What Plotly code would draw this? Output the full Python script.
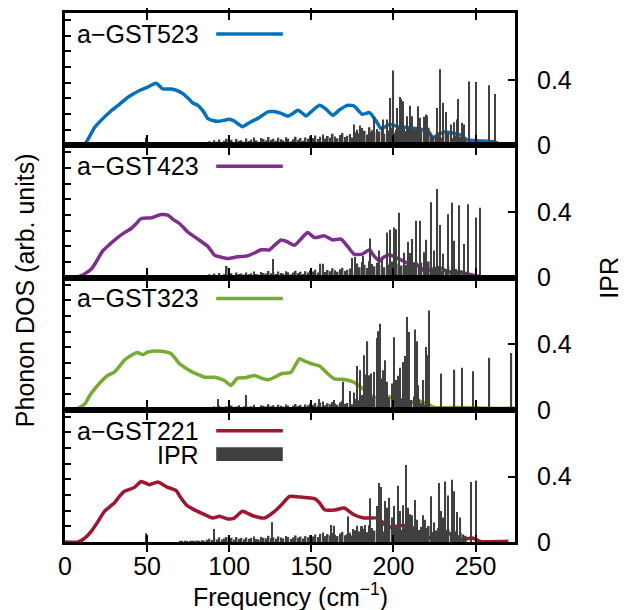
import numpy as np
import plotly.graph_objects as go

# ---------------- data ----------------
SAMPLES = ["a\u2212GST523", "a\u2212GST423", "a\u2212GST323", "a\u2212GST221"]
COLORS = ["#0072bd", "#7e2f8e", "#77ac30", "#a2142f"]
IPR_COLOR = "#404040"

# Phonon DOS (arb. units): (frequency cm^-1, DOS)
DOS_523 = [(0,0),(10,0),(12,0.05),(18,1.13),(23,1.7),(28,2.19),(33,2.6),(38,3.04),(42,3.3),(46,3.53),
           (50,3.7),(55.5,3.96),(59.5,3.6),(64.6,3.6),(68,3.5),(71.7,3.3),(75,3.0),(77.8,2.7),(80.9,2.55),
           (84,2.2),(87,1.7),(90,1.58),(93,1.53),(97,1.6),(100,1.66),(103,1.55),(108,1.19),(113,1.49),
           (118,1.75),(123.5,2.13),(127,2.15),(131.6,2.04),(135.7,1.87),(139,2.05),(141.8,2.23),(144,2.1),
           (146.8,1.87),(151,2.25),(155,2.55),(159,2.3),(163,1.91),(167,2.25),(172,2.55),(176,2.51),
           (181,1.98),(185.4,2.09),(189.5,1.55),(192.5,1.06),(197.6,1.34),(202.6,1.19),(208.7,1.13),
           (214.8,1.06),(221,0.91),(224,0.49),(227,0.65),(231,0.85),(238,0.74),(241,0.64),(245,0.34),
           (253,0.28),(261.5,0.21),(265.6,0)]
DOS_423 = [(0,0),(6,0),(10,0.12),(15.9,0.53),(19,1.0),(23,1.7),(27,2.1),(32,2.55),(36,2.85),(40.3,3.13),
           (43,3.4),(46.4,3.77),(52.4,3.81),(58.5,4.02),(62.6,3.98),(66,3.7),(69.7,3.45),(74.8,2.91),
           (80.9,2.45),(87,1.98),(91,1.43),(95,1.3),(99,1.21),(105,1.32),(111,1.38),(115,1.55),(119.4,1.77),
           (124.5,1.77),(128,2.1),(131.6,2.40),(135,2.3),(139.7,2.06),(144,2.5),(147.8,2.87),(151.9,2.55),
           (158,2.66),(163,2.40),(168,2.45),(172,2.0),(176,1.49),(181,1.49),(185.4,1.77),(188,1.4),
           (191.5,1.06),(194,1.3),(197.6,1.45),(203.7,1.17),(208.7,0.91),(213.8,0.85),(218.9,0.43),
           (223,0.5),(228,0.64),(233,0.36),(241,0.36),(246,0.21),(254.4,0.04),(258,0)]
DOS_323 = [(0,0),(6,0),(12,0.36),(15,0.9),(19,1.44),(22,1.8),(26,2.19),(30,2.40),(33,2.75),(36,3.15),
           (40,3.45),(44,3.65),(47.4,3.52),(50.4,3.69),(56.5,3.76),(60,3.72),(64.6,3.58),(67,3.3),
           (69.7,2.94),(73,2.7),(76.8,2.45),(81,2.25),(85,2.08),(91,2.08),(97,1.87),(101,1.55),(105,2.02),
           (110,2.05),(115.4,2.19),(120,2.0),(123.5,1.91),(128,2.1),(131.6,2.30),(137.7,2.40),(140,2.8),
           (142.8,3.26),(146,3.1),(150,2.94),(155,2.79),(160,2.30),(164,1.97),(170,1.93),(176,1.76),
           (180,1.44),(184.4,1.07),(188.5,0.79),(196.6,0.84),(202.6,0.69),(208.7,0.47),(216.9,0.52),
           (221,0.36),(225,0.15),(241,0.15),(257.5,0.09),(274,0.09)]
DOS_221 = [(0,0),(8,0),(12,0.25),(16,0.68),(20,1.3),(24,1.96),(30,2.49),(33,2.9),(36,3.23),(42.3,3.49),
           (46.4,3.87),(51.4,3.66),(56.5,3.83),(62.6,3.49),(67.7,3.28),(70,2.9),(73.8,2.38),(78,2.1),
           (83,1.85),(90,1.53),(94,1.64),(99,1.47),(103,1.53),(108,1.96),(114.4,1.68),(121.4,1.53),
           (127.6,1.96),(132,2.4),(136.7,2.91),(143.8,2.87),(152,2.77),(155,2.5),(158,2.06),(164,2.04),
           (170,2.17),(176,1.74),(182,1.53),(190.5,1.53),(193,1.3),(196.6,0.94),(204.7,1.06),(210.8,1.00),
           (214.8,0.47),(221,0.30),(225,0.26),(230,0.79),(235,0.47),(241,0.15),(248,0.26),(253,0.04),
           (270,0.04)]

# IPR "grass": sampled every 1.5 cm^-1 from 70 cm^-1, values in units of 1e-3
GRASS_START, GRASS_STEP = 70.0, 1.5
GRASS_523 = [3,5,2,6,4,8,5,10,7,12,9,
             18,25,14,30,22,35,19,28,40,24,33,20,38,27,31,22,
             42,26,35,48,30,22,44,38,29,51,33,40,27,46,36,30,49,41,25,37,52,34,44,28,47,39,55,
             45,60,38,52,66,41,57,48,70,54,43,62,75,50,58,68,47,
             80,95,72,105,88,65,110,92,78,100,85,115,70,98,90,108,76,94,112,83,99,87,104,74,96,110,82,101,88,93,107,
             70,55,62,80,48,66,58,75,52,45,60,38,50,42,35]
GRASS_423 = [2,4,3,5,3,6,4,8,5,9,7,
             12,20,10,24,16,28,14,22,70,19,26,15,30,21,25,18,
             30,20,26,36,22,18,33,28,24,40,26,31,22,36,28,24,38,32,20,30,42,27,35,22,38,31,45,
             36,48,30,84,52,33,46,38,56,44,35,50,60,40,47,55,38,
             70,85,62,95,78,58,100,82,68,90,75,105,62,88,80,98,66,84,102,73,89,77,94,64,86,100,72,91,78,83,97,
             60,48,55,70,40,58,50,66,45,38,52,32,44,36,30]
GRASS_323 = [2,3,2,4,3,5,3,6,4,7,5,
             10,16,8,20,12,24,18,14,22,12,26,16,20,28,15,22,
             25,18,22,30,16,14,28,24,20,33,22,27,18,30,24,20,32,26,17,25,35,23,29,19,32,27,38,
             30,42,26,45,50,28,40,34,48,38,30,44,55,36,42,50,34,
             65,80,58,90,72,55,95,78,62,85,70,100,60,82,75,92,62,80,96,68,84,72,88,60,80,94,66,40,30,20,15,
             10,8,12,6,9,5,8,4,6,3,5,2,4,3,2]
GRASS_221 = [3,5,3,6,4,8,5,9,6,11,8,
             14,20,12,24,16,28,15,22,30,18,26,14,30,20,25,17,
             28,20,25,33,19,16,31,26,22,38,24,29,20,34,27,22,36,30,19,28,40,26,33,21,36,29,42,
             34,46,30,50,58,36,48,40,55,44,36,52,62,42,48,56,40,
             72,88,65,98,80,60,102,85,70,92,78,108,64,90,82,100,68,86,104,75,90,78,96,66,88,102,74,92,80,85,98,
             78,60,70,85,55,72,64,80,58,50,66,42,55,46,38]

# Larger individual IPR spikes: (frequency, IPR)
SPIKES_523 = [(49.5,0.047),(175.9,0.127),(179.7,0.121),(186.4,0.081),(188,0.172),(193.5,0.158),(196.2,0.158),
              (198.2,0.289),(200,0.457),(202,0.228),(203.9,0.295),(204.7,0.283),(206,0.269),(208,0.177),
              (210.2,0.242),(211.2,0.177),(214.8,0.239),(216.4,0.168),(218.5,0.174),(219.9,0.188),(220.7,0.182),
              (226.6,0.228),(228.4,0.465),(230,0.259),(232,0.203),(235,0.127),(237,0.141),(238.5,0.158),
              (239.4,0.283),(241.7,0.137),(243,0.127),(246.3,0.390),(250,0.350),(250.5,0.386),(258.1,0.366),
              (261.9,0.313)]
SPIKES_423 = [(126.5,0.113),(157,0.084),(174.8,0.119),(176.8,0.125),(181.2,0.131),(186,0.239),(191,0.165),
              (196,0.275),(198,0.291),(200.2,0.305),(201.8,0.295),(203.3,0.396),(206.7,0.151),(208.6,0.219),
              (210.4,0.149),(211.6,0.235),(213.8,0.346),(216.4,0.346),(218.5,0.155),(220.1,0.231),(222.8,0.460),
              (224.6,0.165),(226.5,0.255),(226.8,0.541),(228.6,0.320),(230,0.145),(233.1,0.386),(235.5,0.456),
              (237.1,0.225),(239.8,0.442),(242.8,0.205),(245.3,0.448),(250.4,0.366),(252.6,0.426)]
SPIKES_323 = [(93,0.065),(110,0.09),(149.7,0.045),(154.8,0.065),(163.9,0.059),(169.5,0.171),(173.6,0.114),
              (176.2,0.106),(177.9,0.268),(179.7,0.242),(182,0.333),(182.8,0.215),(184.2,0.418),(185.4,0.211),
              (186.4,0.221),(188,0.231),(189.9,0.438),(190.9,0.479),(191.7,0.526),(192.5,0.191),(193.9,0.242),
              (195.1,0.302),(196.2,0.171),(199,0.160),(200.2,0.443),(201.6,0.181),(203,0.207),(203.8,0.256),
              (206,0.292),(206.8,0.329),(208.3,0.566),(209.3,0.475),(213.2,0.491),(214.2,0.418),(214.8,0.150),
              (218.3,0.181),(219.7,0.384),(220.5,0.333),(221.7,0.607),(229,0.221),(237.2,0.244),(241.8,0.256),
              (248.7,0.235),(258.5,0.317),(271.9,0.347)]
SPIKES_221 = [(49.4,0.053),(90.8,0.08),(126,0.12),(162.3,0.104),(163.9,0.100),(172.6,0.156),(175.3,0.08),
              (177.9,0.10),(180.4,0.096),(182.8,0.104),(186,0.268),(190,0.22),(191.5,0.36),(192.5,0.336),
              (195,0.25),(196,0.21),(197.6,0.27),(199,0.15),(200.6,0.22),(202.7,0.344),(204,0.19),(206,0.224),
              (207.7,0.47),(208.7,0.21),(210.2,0.17),(211.4,0.164),(213.2,0.256),(214.4,0.136),(217.9,0.164),
              (219.3,0.136),(223,0.28),(225,0.12),(227.6,0.36),(229,0.19),(230,0.15),(231.7,0.37),(233,0.284),
              (235.8,0.38),(236.6,0.31),(238.6,0.184),(240.8,0.15),(247.3,0.366),(250.4,0.376)]

DOS_ALL = [DOS_523, DOS_423, DOS_323, DOS_221]
GRASS_ALL = [GRASS_523, GRASS_423, GRASS_323, GRASS_221]
SPIKES_ALL = [SPIKES_523, SPIKES_423, SPIKES_323, SPIKES_221]

X_TICKS = [0, 50, 100, 150, 200, 250]
IPR_TICKS = [0, 0.4]
IPR_TICKTEXT = ["0", "0.4"]

# ---------------- figure ----------------
FONT = "Liberation Sans"
FS = 25
fig = go.Figure()
layout = {}
n = 4
for k in range(n):
    i = k + 1
    xa = "x" if i == 1 else f"x{i}"
    ya = "y" if i == 1 else f"y{i}"
    yi = f"y{i + 4}"
    f_dos, v_dos = zip(*DOS_ALL[k])
    g = np.array(GRASS_ALL[k], dtype=float) / 1000.0
    gf = GRASS_START + GRASS_STEP * np.arange(len(g))
    sf, sv = zip(*SPIKES_ALL[k])
    fig.add_trace(go.Scatter(x=list(f_dos), y=list(v_dos), mode="lines", xaxis=xa, yaxis=ya,
                             line=dict(color=COLORS[k], width=3.5, shape="spline", smoothing=0.5),
                             showlegend=False, hoverinfo="skip"))
    # dense low-IPR modes
    fig.add_trace(go.Bar(x=gf, y=g, width=1.0, xaxis=xa, yaxis=yi,
                         marker=dict(color=IPR_COLOR, line=dict(width=0)),
                         showlegend=False, hoverinfo="skip"))
    # strongly localised modes
    fig.add_trace(go.Bar(x=list(sf), y=list(sv), width=0.7, xaxis=xa, yaxis=yi,
                         marker=dict(color=IPR_COLOR, line=dict(width=0)),
                         showlegend=False, hoverinfo="skip"))
    top = 1 - k / n
    bot = 1 - (k + 1) / n
    layout["xaxis" if i == 1 else f"xaxis{i}"] = dict(
        domain=[0, 1], anchor=ya, range=[0, 274], matches=None if i == 1 else "x",
        tickvals=X_TICKS, ticks="inside", ticklen=7, tickwidth=1.5, tickcolor="black",
        showline=True, linewidth=3, linecolor="black", mirror="allticks",
        showgrid=False, zeroline=False, showticklabels=(i == n),
        tickfont=dict(family=FONT, size=FS, color="black"), ticklabelstandoff=0)
    layout["yaxis" if i == 1 else f"yaxis{i}"] = dict(
        domain=[bot, top], anchor=xa, range=[0, 8.45], tickvals=list(range(1, 9)),
        ticks="inside", ticklen=6, tickwidth=1.5, tickcolor="black", showticklabels=False,
        showline=True, linewidth=3, linecolor="black", mirror=True,
        showgrid=False, zeroline=False)
    layout[f"yaxis{i + 4}"] = dict(
        overlaying=ya, side="right", anchor=xa, range=[0, 0.808],
        tickvals=IPR_TICKS, ticktext=IPR_TICKTEXT, ticks="inside", ticklen=7, tickwidth=1.5,
        tickcolor="black", showline=False, showgrid=False, zeroline=False,
        tickfont=dict(family=FONT, size=FS, color="black"), ticklabelstandoff=21)

fig.update_layout(**layout)

# legends (text right-aligned, then sample) drawn inside each panel
annotations = []
shapes = []
for k in range(n):
    i = k + 1
    xd = "x domain" if i == 1 else f"x{i} domain"
    yd = "y domain" if i == 1 else f"y{i} domain"
    annotations.append(dict(text=SAMPLES[k], xref=xd, yref=yd, x=0.302, y=0.842,
                            xanchor="right", yanchor="middle", showarrow=False,
                            font=dict(family=FONT, size=FS, color="black")))
    shapes.append(dict(type="line", xref=xd, yref=yd, x0=0.336, x1=0.484, y0=0.842, y1=0.842,
                       line=dict(color=COLORS[k], width=3.5)))
# IPR key in the bottom panel
annotations.append(dict(text="IPR", xref="x4 domain", yref="y4 domain", x=0.302, y=0.658,
                        xanchor="right", yanchor="middle", showarrow=False,
                        font=dict(family=FONT, size=FS, color="black")))
shapes.append(dict(type="rect", xref="x4 domain", yref="y4 domain", x0=0.336, x1=0.484,
                   y0=0.612, y1=0.717, fillcolor=IPR_COLOR, line=dict(width=0)))
# axis titles
annotations.append(dict(text="Frequency (cm<sup>\u22121</sup>)", xref="paper", yref="paper",
                        x=0.5, y=-0.1, xanchor="center", yanchor="middle", showarrow=False,
                        font=dict(family=FONT, size=FS, color="black")))
annotations.append(dict(text="Phonon DOS (arb. units)", xref="paper", yref="paper",
                        x=-0.089, y=0.476, xanchor="center", yanchor="middle", showarrow=False,
                        textangle=-90, font=dict(family=FONT, size=FS, color="black")))
annotations.append(dict(text="IPR", xref="paper", yref="paper",
                        x=1.207, y=0.5, xanchor="center", yanchor="middle", showarrow=False,
                        textangle=-90, font=dict(family=FONT, size=FS, color="black")))

# page body has an 8 px margin, so the figure is 8 px smaller and offset
fig.update_layout(
    width=620, height=602,
    margin=dict(l=57, r=113, t=2, b=68),
    paper_bgcolor="white", plot_bgcolor="white",
    barmode="overlay", showlegend=False,
    annotations=annotations, shapes=shapes,
    font=dict(family=FONT, size=FS, color="black"),
)

fig.write_html("out.html")
